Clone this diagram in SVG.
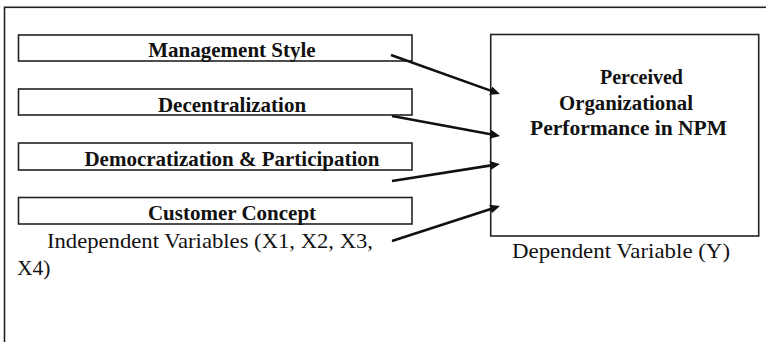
<svg xmlns="http://www.w3.org/2000/svg" width="766" height="342" viewBox="0 0 766 342">
<style>
.frame{fill:none;stroke:#222;stroke-width:1.6}
.box{fill:#fff;stroke:#222;stroke-width:1.6}
.lbl{font-family:'Liberation Serif','Times New Roman',serif;font-weight:bold;font-size:21px;fill:#111;text-anchor:middle}
.dep{font-family:'Liberation Serif','Times New Roman',serif;font-weight:bold;font-size:20px;fill:#111}
.cap{font-family:'Liberation Serif','Times New Roman',serif;font-size:21.5px;fill:#111}
.conn line{stroke:#111;stroke-width:2.6;marker-end:url(#ah)}
</style>
<defs>
<marker id="ah" markerUnits="userSpaceOnUse" markerWidth="11" markerHeight="10" refX="6" refY="4.5" orient="auto">
<path d="M0,0 L10,4.5 L0,9 z" fill="#111"/>
</marker>
</defs>
<rect x="0" y="0" width="766" height="342" fill="#fff"/>
<rect class="frame" x="4.5" y="7.3" width="800" height="400"/>
<g id="n-management-style">
<rect class="box" x="18.5" y="35" width="393.5" height="26"/>
<text class="lbl" x="232" y="57">Management Style</text>
</g>
<g id="n-decentralization">
<rect class="box" x="18.5" y="89" width="393.5" height="26"/>
<text class="lbl" x="232" y="111.5">Decentralization</text>
</g>
<g id="n-democratization">
<rect class="box" x="18.5" y="143" width="393.5" height="27"/>
<text class="lbl" x="232" y="165.5">Democratization &amp; Participation</text>
</g>
<g id="n-customer-concept">
<rect class="box" x="18.5" y="197.5" width="393.5" height="26.5"/>
<text class="lbl" x="232" y="220">Customer Concept</text>
</g>
<g id="n-independent-caption">
<text class="cap" x="47" y="248.3" textLength="326" lengthAdjust="spacingAndGlyphs">Independent Variables (X1, X2, X3,</text>
<text class="cap" x="17" y="274.5">X4)</text>
</g>
<g id="n-dependent">
<rect class="box" x="490.7" y="34.5" width="268" height="201.5"/>
<text class="dep" x="600" y="84" textLength="83" lengthAdjust="spacingAndGlyphs">Perceived</text>
<text class="dep" x="559" y="109.5" textLength="134" lengthAdjust="spacingAndGlyphs">Organizational</text>
<text class="dep" x="530" y="135" textLength="197" lengthAdjust="spacingAndGlyphs">Performance in NPM</text>
</g>
<g id="n-dependent-caption">
<text class="cap" x="512" y="258.3" textLength="218" lengthAdjust="spacingAndGlyphs">Dependent Variable (Y)</text>
</g>
<g id="connectors" class="conn">
<line x1="391" y1="55" x2="496.2" y2="92.65"/>
<line x1="392" y1="116" x2="496.1" y2="135.3"/>
<line x1="392" y1="181" x2="496.0" y2="164.6"/>
<line x1="392" y1="241" x2="496.2" y2="207.2"/>
</g>
</svg>
